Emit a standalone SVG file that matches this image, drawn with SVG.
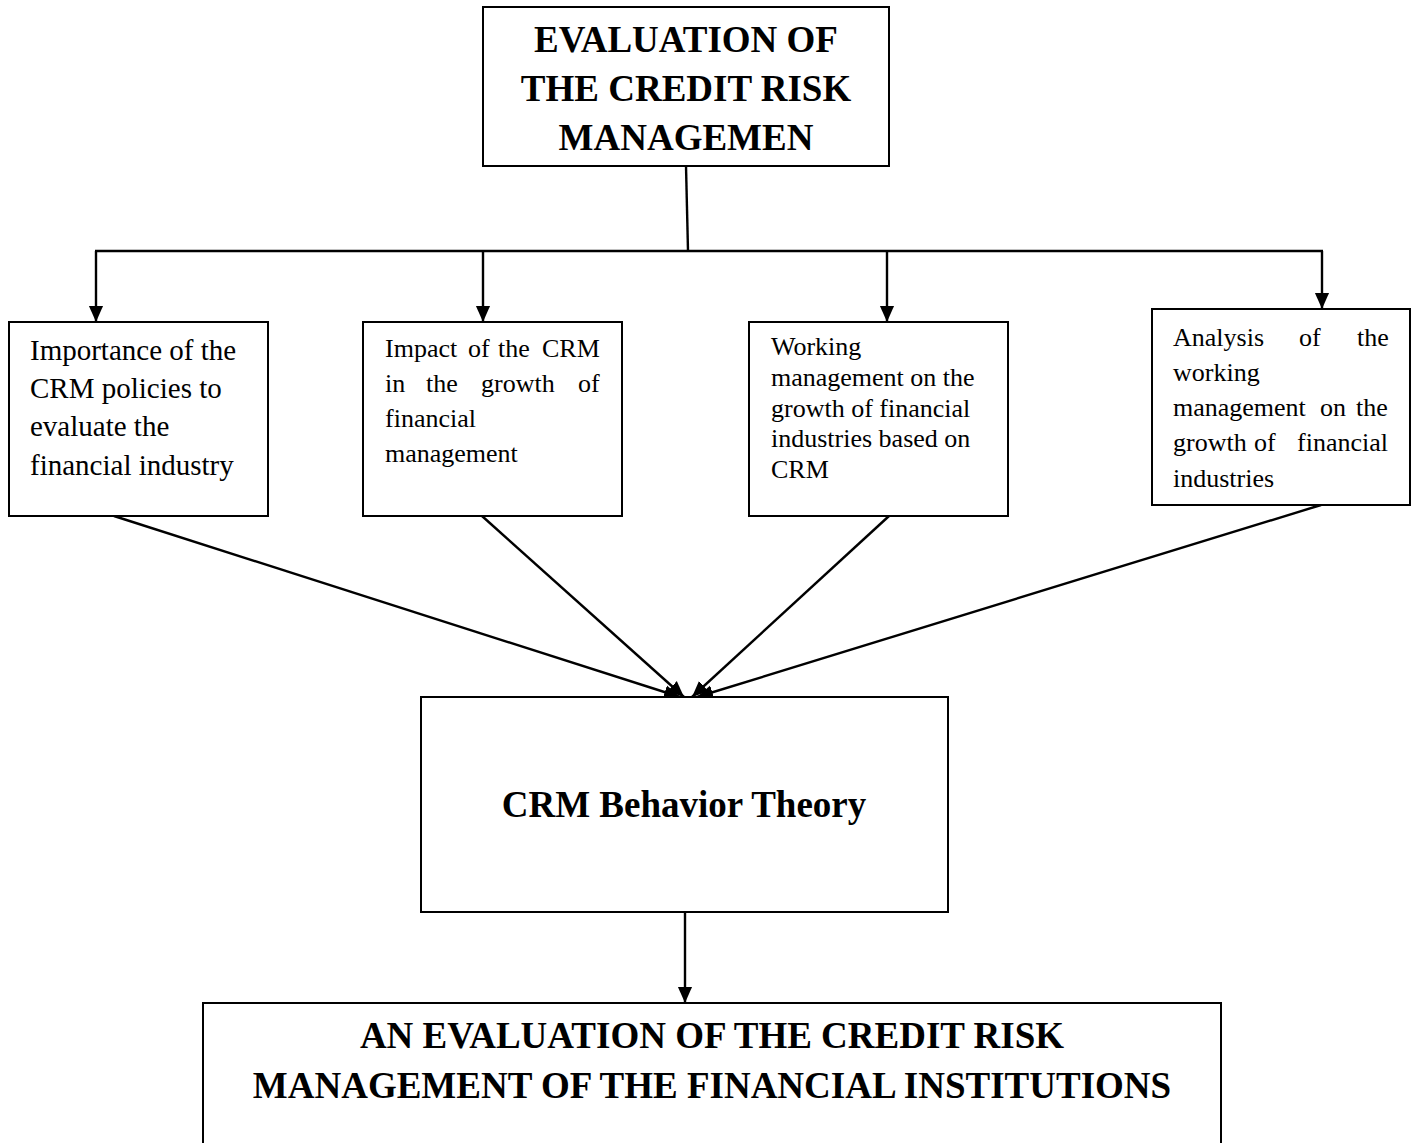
<svg xmlns="http://www.w3.org/2000/svg" width="1416" height="1143" viewBox="0 0 1416 1143">
<style>
.box{fill:#fff;stroke:#000;stroke-width:2}
.t{font-family:"Liberation Serif","Times New Roman",serif;fill:#000}
.b{font-weight:bold;font-size:37px;text-anchor:middle}
.s29{font-size:29px}
.s26{font-size:26px}
.c{fill:none;stroke:#000;stroke-width:2.4}
</style>
<defs>
<marker id="ah" viewBox="0 0 10 10" refX="10" refY="5" markerUnits="userSpaceOnUse" markerWidth="16" markerHeight="16" orient="auto">
<path d="M0,0.6 L10,5 L0,9.4 z" fill="#000"/>
</marker>
</defs>
<rect width="1416" height="1143" fill="#fff"/>
<g id="connectors">
<line class="c" x1="686" y1="166" x2="688" y2="251"/>
<line class="c" x1="95" y1="251" x2="1323" y2="251"/>
<line class="c" x1="96" y1="251" x2="96" y2="322" marker-end="url(#ah)"/>
<line class="c" x1="483" y1="251" x2="483" y2="322" marker-end="url(#ah)"/>
<line class="c" x1="887" y1="251" x2="887" y2="322" marker-end="url(#ah)"/>
<line class="c" x1="1322" y1="251" x2="1322" y2="309" marker-end="url(#ah)"/>
<line class="c" x1="114" y1="516" x2="680" y2="697" marker-end="url(#ah)"/>
<line class="c" x1="482" y1="516" x2="684" y2="697" marker-end="url(#ah)"/>
<line class="c" x1="889" y1="516" x2="692" y2="697" marker-end="url(#ah)"/>
<line class="c" x1="1321" y1="505" x2="697" y2="697" marker-end="url(#ah)"/>
<line class="c" x1="685" y1="912" x2="685" y2="1003" marker-end="url(#ah)"/>
</g>
<g id="top">
<rect class="box" x="483" y="7" width="406" height="159"/>
<text class="t b" x="686" y="52">EVALUATION OF</text>
<text class="t b" x="686" y="101">THE CREDIT RISK</text>
<text class="t b" x="686" y="150">MANAGEMEN</text>
</g>
<g id="box1">
<rect class="box" x="9" y="322" width="259" height="194"/>
<text class="t s29" x="30" y="360">Importance of the</text>
<text class="t s29" x="30" y="398">CRM policies to</text>
<text class="t s29" x="30" y="436">evaluate the</text>
<text class="t s29" x="30" y="475">financial industry</text>
</g>
<g id="box2">
<rect class="box" x="363" y="322" width="259" height="194"/>
<text class="t s26" y="357"><tspan x="385">Impact</tspan><tspan x="468">of</tspan><tspan x="498">the</tspan><tspan x="542">CRM</tspan></text>
<text class="t s26" y="392"><tspan x="385">in</tspan><tspan x="426">the</tspan><tspan x="481">growth</tspan><tspan x="578">of</tspan></text>
<text class="t s26" x="385" y="427">financial</text>
<text class="t s26" x="385" y="462">management</text>
</g>
<g id="box3">
<rect class="box" x="749" y="322" width="259" height="194"/>
<text class="t s26" x="771" y="355">Working</text>
<text class="t s26" x="771" y="386">management on the</text>
<text class="t s26" x="771" y="417">growth of financial</text>
<text class="t s26" x="771" y="447">industries based on</text>
<text class="t s26" x="771" y="478">CRM</text>
</g>
<g id="box4">
<rect class="box" x="1152" y="309" width="258" height="196"/>
<text class="t s26" y="346"><tspan x="1173">Analysis</tspan><tspan x="1299">of</tspan><tspan x="1357">the</tspan></text>
<text class="t s26" x="1173" y="381">working</text>
<text class="t s26" y="416"><tspan x="1173">management</tspan><tspan x="1320">on</tspan><tspan x="1356">the</tspan></text>
<text class="t s26" y="451"><tspan x="1173">growth</tspan><tspan x="1254">of</tspan><tspan x="1297">financial</tspan></text>
<text class="t s26" x="1173" y="487">industries</text>
</g>
<g id="crm">
<rect class="box" x="421" y="697" width="527" height="215"/>
<text class="t b" x="684" y="817">CRM Behavior Theory</text>
</g>
<g id="bottom">
<rect class="box" x="203" y="1003" width="1018" height="160"/>
<text class="t b" x="712" y="1048">AN EVALUATION OF THE CREDIT RISK</text>
<text class="t b" x="712" y="1098">MANAGEMENT OF THE FINANCIAL INSTITUTIONS</text>
</g>
</svg>
